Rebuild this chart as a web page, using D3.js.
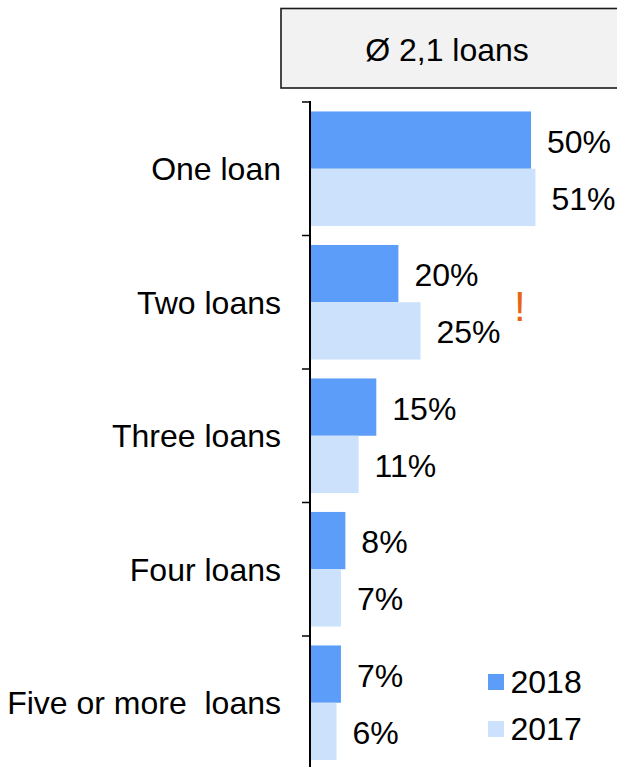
<!DOCTYPE html>
<html><head><meta charset="utf-8">
<script src="https://cdn.jsdelivr.net/npm/d3@7"></script>
<style>body{margin:0;background:#fff}svg{display:block;font-family:Arial,"Liberation Sans",sans-serif}text{white-space:pre}</style>
</head><body>
<svg id="c" width="617" height="767"></svg>
<script>
const categories = ["One loan","Two loans","Three loans","Four loans","Five or more  loans"];
const seriesNames = ["2018","2017"];
const values2018 = [50,20,15,8,7];
const values2017 = [51,25,11,7,6];
const titleText = "Ø 2,1 loans";
const flagCategory = "Two loans";

const colors = {"2018":"#5B9DF9","2017":"#CCE1FC"};
const svg = d3.select("#c");
const fs = 32;
const axisX = 310;

const y = d3.scaleBand().domain(categories).range([102, 102 + 133.5*5]).paddingInner(0).paddingOuter(0);
const ySub = d3.scaleBand().domain(seriesNames).range([0, y.bandwidth()]).paddingInner(0).paddingOuter(0.165);
const x = d3.scaleLinear().domain([0,50]).range([0,221]);

const data = categories.map((c,i)=>({cat:c, vals:[{s:"2018",v:values2018[i]},{s:"2017",v:values2017[i]}]}));

// title box
svg.append("rect").attr("x",281).attr("y",8.5).attr("width",345).attr("height",79.5)
  .attr("fill","#f2f2f2").attr("stroke","#1a1a1a").attr("stroke-width",1.6);
svg.append("text").attr("x",447).attr("y",61).attr("text-anchor","middle")
  .attr("font-size",fs).attr("fill","#000").text(titleText);

// bars
const g = svg.append("g").selectAll("g").data(data).join("g")
  .attr("transform",d=>`translate(${axisX},${y(d.cat)})`);
g.selectAll("rect").data(d=>d.vals).join("rect")
  .attr("x",0).attr("y",d=>ySub(d.s)).attr("width",d=>x(d.v)).attr("height",ySub.bandwidth())
  .attr("fill",d=>colors[d.s]);
g.selectAll("text.v").data(d=>d.vals).join("text").attr("class","v")
  .attr("x",d=>x(d.v)+16).attr("y",d=>ySub(d.s)+ySub.bandwidth()/2).attr("dy","0.39em")
  .attr("font-size",fs).attr("fill","#000").text(d=>d.v+"%");

// exclamation
svg.append("text").attr("x",axisX+x(47.5)).attr("y",y(flagCategory)+y.bandwidth()/2+19)
  .attr("text-anchor","middle").attr("font-size",42).attr("fill","#E8640F").text("!");

// axis
svg.append("line").attr("x1",axisX).attr("x2",axisX).attr("y1",101).attr("y2",767)
  .attr("stroke","#000").attr("stroke-width",2);
svg.selectAll("line.tick").data(categories).join("line").attr("class","tick")
  .attr("x1",axisX-8).attr("x2",axisX).attr("y1",d=>y(d)).attr("y2",d=>y(d))
  .attr("stroke","#000").attr("stroke-width",1.5);
svg.selectAll("text.cat").data(categories).join("text").attr("class","cat")
  .attr("x",281).attr("y",d=>y(d)+y.bandwidth()/2).attr("dy","0.36em")
  .attr("text-anchor","end").attr("font-size",fs).attr("fill","#000").text(d=>d);

// legend
const lg = svg.append("g").selectAll("g").data(seriesNames).join("g")
  .attr("transform",(d,i)=>`translate(488,${674+i*47})`);
lg.append("rect").attr("width",16).attr("height",16).attr("fill",d=>colors[d]);
lg.append("text").attr("x",22.5).attr("y",18.5).attr("font-size",fs).attr("fill","#000").text(d=>d);
</script>
</body></html>
